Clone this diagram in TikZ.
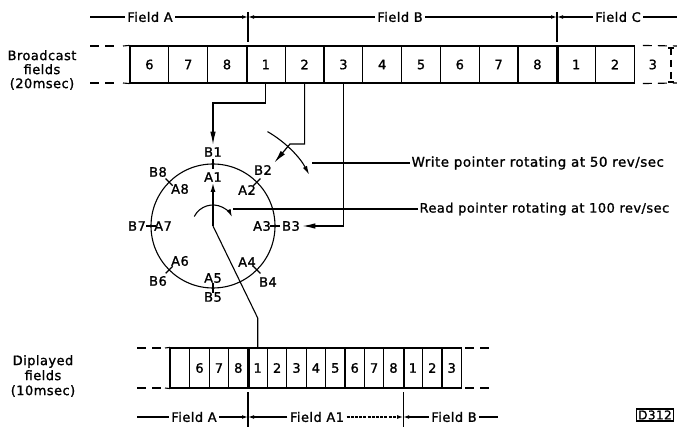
\documentclass[tikz,border=0pt]{standalone}
\usepackage{fontspec}
\setmainfont{DejaVu Sans}[LetterSpace=3.5, FakeBold=1.2]
\usetikzlibrary{arrows.meta,calc}
\begin{document}
\begin{tikzpicture}[x=1pt,y=-1pt,line width=1.1pt,
  lbl/.style={font=\fontsize{13}{14}\selectfont, inner sep=2pt},
  tcell/.style={draw, minimum width=38.8pt, minimum height=37pt, inner sep=0pt, font=\fontsize{13}{14}\selectfont},
  bcell/.style={draw, minimum width=19.4pt, minimum height=40pt, inner sep=0pt, font=\fontsize{13}{14}\selectfont},
  thickdiv/.style={line width=2.4pt},
  dimarr/.style={-{Latex[length=6pt,width=3.8pt]}},
  bigarr/.style={-{Latex[length=13pt,width=5.5pt]}, line width=1.2pt},
  gapdash/.style={dash pattern=on 9pt off 6pt},
]
\useasboundingbox (0,0) rectangle (677,427);

% ---------- top strip ----------
\foreach \t [count=\i] in {6,7,8,1,2,3,4,5,6,7,8,1,2}
  \node[tcell] (t\i) at ({130+38.8*(\i-0.5)},64.5) {\t};
\node[lbl] (t14) at (652.8,64.5) {3};
\draw[thickdiv] (t3.north east) -- (t3.south east);
\draw[thickdiv] (t11.north east) -- (t11.south east);
\draw (123,46) -- (t1.north west);
\draw (123,83) -- (t1.south west);
\draw[gapdash] (90,46) -- (120,46);
\draw[gapdash] (90,83) -- (120,83);
\draw[gapdash] (t13.north east) ++(8,0) -- (677,46);
\draw[gapdash] (t13.south east) ++(8,0) -- (677,83);
\draw[dash pattern=on 7pt off 5pt] (671,48) -- (671,82);
\draw (668,48) -- (674,48);
\draw (668,82) -- (674,82);

\node[lbl, align=center] (bf) at (42,70) {Broadcast\\fields\\(20msec)};

% top field labels
\coordinate (tkA) at (248,17);
\coordinate (tkB) at (557,17);
\draw (248,12) -- (248,42);
\draw (557,12) -- (557,42);
\node[lbl] (fa) at (150,17) {Field A};
\node[lbl] (fb) at (400,17) {Field B};
\node[lbl] (fc) at (618,17) {Field C};
\coordinate (faL) at (90,17);
\coordinate (fcR) at (677,17);
\draw (fa.west) -- (faL);
\draw[dimarr] (fa.east) -- (tkA);
\draw[dimarr] (fb.west) -- (tkA);
\draw[dimarr] (fb.east) -- (tkB);
\draw[dimarr] (fc.west) -- (tkB);
\draw (fc.east) -- (fcR);

% ---------- circle ----------
\node[circle, draw, minimum size=124pt, inner sep=0pt] (cir) at (213,226) {};
\foreach \a in {0,45,...,315}
  \draw ($(cir.center)+(\a:57pt)$) -- ($(cir.center)+(\a:67pt)$);

\node[lbl] (A1) at (213,177) {A1};
\node[lbl] (B1) at (213,152) {B1};
\node[lbl] (A2) at (247,190) {A2};
\node[lbl] (B2) at (263,170) {B2};
\node[lbl] (A3) at (262,226) {A3};
\node[lbl] (B3) at (291,226) {B3};
\node[lbl] (A4) at (247,262) {A4};
\node[lbl] (B4) at (268,282) {B4};
\node[lbl] (A5) at (213,278) {A5};
\node[lbl] (B5) at (213,297) {B5};
\node[lbl] (A6) at (180,261) {A6};
\node[lbl] (B6) at (158,281) {B6};
\node[lbl] (A7) at (163,226) {A7};
\node[lbl] (B7) at (137,226) {B7};
\node[lbl] (A8) at (180,189) {A8};
\node[lbl] (B8) at (158,172) {B8};

% write connectors
\coordinate (w1) at (213,103);
\coordinate (w2) at (290,144);
\draw[bigarr] (t4.south) |- (w1) -- (B1.north);
\draw[bigarr] (t5.south) |- (w2) -- (B2.north east);
\draw[bigarr] (t6.south) |- (B3.east);

% rotation arcs
\draw[-{Latex[length=9pt,width=4.5pt]}] ($(cir.center)+(60:109pt)$) arc[start angle=60, end angle=28, radius=109pt];
\draw[-{Latex[length=8pt,width=4.5pt]}] ($(cir.center)+(153:21pt)$) arc[start angle=153, end angle=25, radius=21pt];

% read pointer
\coordinate (rp) at (213,182);
\draw[line width=1.8pt, -{Latex[length=10pt,width=5pt]}] (cir.center) -- (rp);

% pointer labels
\node[lbl, anchor=west, inner sep=1pt, font=\fontsize{13.5}{14}\selectfont] (wl) at (410,163) {Write pointer rotating at 50 rev/sec};
\node[lbl, anchor=west, inner sep=1pt, font=\fontsize{13}{14}\selectfont] (rl) at (418,209) {Read pointer rotating at 100 rev/sec};
\coordinate (wls) at (312,163);
\coordinate (rls) at (233,209);
\draw (wl.west) -- (wls);
\draw (rl.west) -- (rls);

% ---------- bottom strip ----------
\foreach \t [count=\i] in {{},6,7,8,1,2,3,4,5,6,7,8,1,2,3}
  \node[bcell] (b\i) at ({170.4+19.4*(\i-0.5)},368) {\t};
\draw[thickdiv] (b1.north west) -- (b1.south west);
\draw[thickdiv] (b4.north east) -- (b4.south east);
\draw[thickdiv] (b12.north east) -- (b12.south east);
\draw (165,348) -- (b1.north west);
\draw (165,388) -- (b1.south west);
\draw[gapdash] (137,348) -- (162,348);
\draw[gapdash] (137,388) -- (162,388);
\draw[gapdash] (465,348) -- (492,348);
\draw[gapdash] (465,388) -- (492,388);

% read output connector
\coordinate (rk) at (257.7,318);
\draw (cir.center) -- (rk) -- (b5.north);

\node[lbl, align=center] (df) at (43,376) {Diplayed\\[1pt]fields\\[1pt](10msec)};

% bottom field labels
\coordinate (tkC) at (248,417);
\coordinate (tkD) at (403.2,417);
\draw (248,392) -- (248,427);
\draw (403.2,392) -- (403.2,427);
\node[lbl] (ga) at (194,417) {Field A};
\node[lbl] (ga1) at (317,417) {Field A1};
\node[lbl] (gb) at (454,417) {Field B};
\coordinate (gaL) at (137,417);
\coordinate (gbR) at (498,417);
\draw (ga.west) -- (gaL);
\draw[dimarr] (ga.east) -- (tkC);
\draw[dimarr] (ga1.west) -- (tkC);
\draw[dimarr, dash pattern=on 3pt off 1.2pt] (ga1.east) -- (tkD);
\draw[dimarr] (gb.west) -- (tkD);
\draw (gb.east) -- (gbR);

% label box
\node[draw, line width=1.1pt, inner sep=1.5pt, font=\fontsize{12}{13}\selectfont] (d312) at (655,415) {D312};
\end{tikzpicture}
\end{document}
